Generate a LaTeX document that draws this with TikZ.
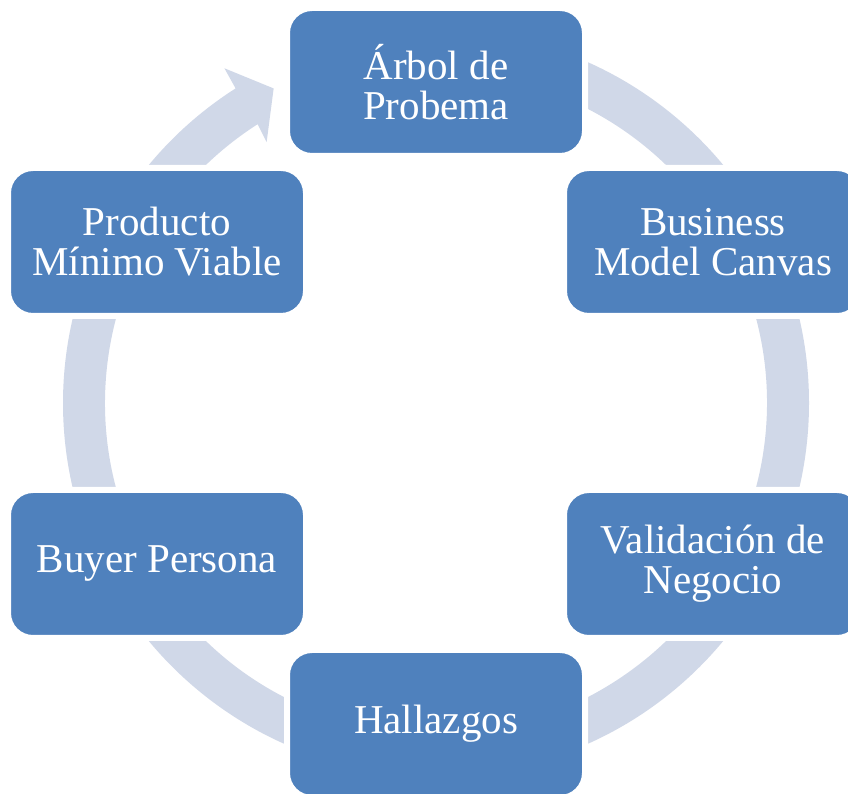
\documentclass[tikz,border=0pt]{standalone}
\usepackage{fontspec}
\setmainfont{Liberation Serif}
\usetikzlibrary{calc}
\definecolor{boxblue}{HTML}{4F81BD}
\definecolor{ringgray}{HTML}{D0D8E8}
\tikzset{
  stepbox/.style={rectangle, rounded corners=25pt, fill=boxblue, draw=white,
    line width=6pt, minimum width=298pt, minimum height=148pt,
    text=white, align=center, inner sep=0pt,
    font=\fontsize{41pt}{40pt}\selectfont},
  ringstyle/.style={fill=ringgray, draw=none}
}
\begin{document}
\begin{tikzpicture}[x=1pt,y=1pt]
\useasboundingbox (0,0) rectangle (848,794);
\clip (0,0) rectangle (848,794);
\fill[white] (0,0) rectangle (848,794);
\coordinate (C) at (436,391);
% ring with arrowhead
\path[ringstyle] ($(C)+(90:373pt)$) arc[start angle=90, end angle=-237.5, radius=373pt]
  -- ($(C)+(122.3:396pt)$) -- ($(C)+(117.3:354pt)$) -- ($(C)+(123.0:311pt)$)
  -- ($(C)+(122.6:331pt)$) arc[start angle=-237.4, end angle=90, radius=331pt] -- cycle;
% boxes
\node[stepbox] (arbol) at (436,712) {Árbol de\\Probema};
\node[stepbox] (bmc) at (713,552) {Business\\Model Canvas};
\node[stepbox] (val) at (713,230) {Validación de\\Negocio};
\node[stepbox] (hall) at (436,70) {Hallazgos};
\node[stepbox] (buyer) at (157,230) {Buyer Persona};
\node[stepbox] (pmv) at (157,552) {Producto\\Mínimo Viable};
\end{tikzpicture}
\end{document}
